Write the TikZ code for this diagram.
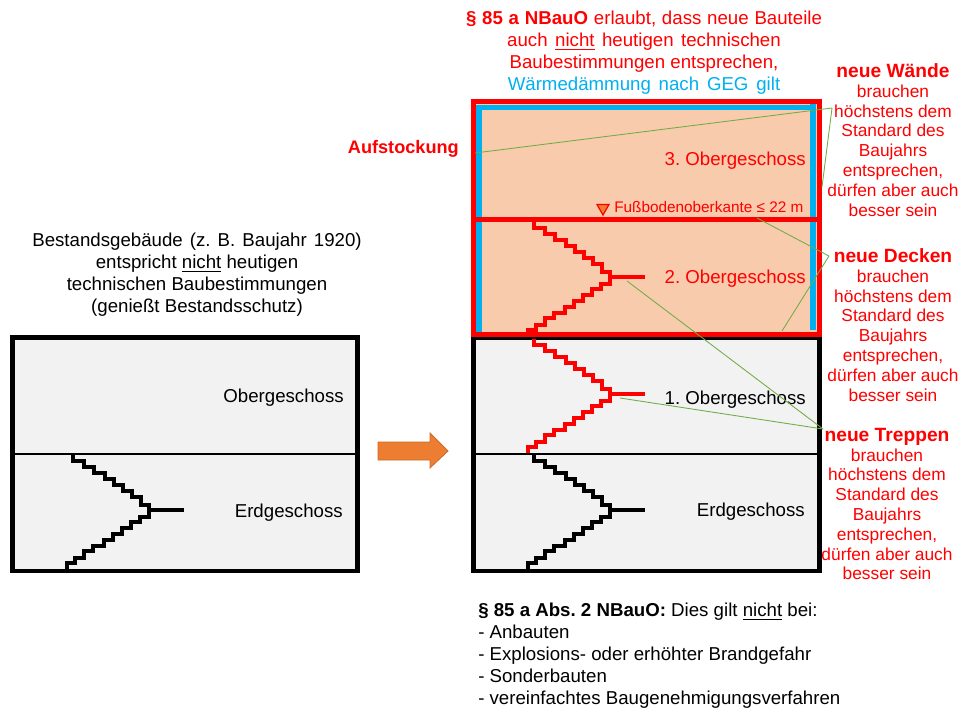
\documentclass[tikz,border=0pt]{standalone}
\usepackage{fontspec}
\setmainfont{Liberation Sans}
\frenchspacing
\definecolor{rot}{HTML}{FF0000}
\definecolor{blau}{HTML}{00B0F0}
\definecolor{gruen}{HTML}{70AD47}
\definecolor{orange}{HTML}{ED7D31}
\definecolor{grau}{HTML}{F2F2F2}
\definecolor{lachs}{HTML}{F8CBAD}
\tikzset{
  geschoss/.style={anchor=east, inner sep=0pt, font=\fontsize{14}{16}\selectfont},
  rottext/.style={text=rot, align=center, inner sep=0pt, font=\fontsize{13}{14.85}\selectfont},
  zettel/.style={align=center, inner sep=0pt, font=\fontsize{14}{16.5}\selectfont},
  liste/.style={align=left, anchor=north west, inner sep=0pt, font=\fontsize{14}{16.5}\selectfont},
  hinweis/.style={gruen, line width=0.65pt}
}
\begin{document}
\begin{tikzpicture}[x=0.75pt, y=-0.75pt]

    \useasboundingbox (0, 0) rectangle (960, 707);

    % Treppe: Versatz x, Versatz y, Farbe, Linienbreite
    \newcommand{\treppe}[4]{
        \draw[#3, line width=#4, miter limit=2] (534+#1, 455+#2) -- ++(0, 6) -- ++(11, 0) -- ++(0, 6) -- ++(10, 0)
            -- ++(0, 6) -- ++(11, 0) -- ++(0, 6) -- ++(9, 0) -- ++(0, 6) -- ++(9, 0)
            -- ++(0, 6) -- ++(9, 0) -- ++(0, 6) -- ++(9, 0) -- ++(0, 8) -- ++(8, 0) -- ++(0, 12)
            -- ++(-9, 0) -- ++(0, 5) -- ++(-9, 0) -- ++(0, 6) -- ++(-9, 0) -- ++(0, 6)
            -- ++(-9, 0) -- ++(0, 6) -- ++(-9, 0) -- ++(0, 6) -- ++(-11, 0) -- ++(0, 5)
            -- ++(-9, 0) -- ++(0, 7) -- ++(-9, 0) -- ++(0, 5) -- ++(-8, 0) -- ++(0, 6);
        \draw[#3, line width=#4] (611+#1, 510+#2) -- (645+#1, 510+#2);
    }

    % -- Bestand links --
    \draw[line width=3.5pt, fill=grau] (12.5, 337.5) rectangle (357.5, 571);
    \draw[line width=1.8pt] (14, 454) -- (356, 454);
    \treppe{-461}{0}{black}{2.8pt}
    \node[geschoss] (og) at (344, 397.5) {Obergeschoss};
    \node[geschoss] (eg) at (343, 513) {Erdgeschoss};

    \node[zettel] (bestand) at (197, 275) {{\spaceskip=0.38em Bestandsgebäude (z. B. Baujahr 1920)}\\
        entspricht \underline{nicht} heutigen\\
        technischen Baubestimmungen\\
        (genießt Bestandsschutz)};

    % Pfeil
    \draw[orange!85!black, line width=0.6pt, fill=orange] (378, 442) -- (430, 442) -- (430, 433) -- (448, 451)
        -- (430, 468) -- (430, 460) -- (378, 460) -- cycle;

    % -- Bestand rechts --
    \draw[line width=3.5pt, fill=grau] (473.5, 337.5) rectangle (819.5, 571);
    \draw[line width=1.8pt] (475, 454) -- (818, 454);
    \treppe{0}{0}{black}{2.8pt}
    \treppe{0}{-116}{rot}{3.5pt}
    \node[geschoss] (eins) at (806, 400) {1. Obergeschoss};
    \node[geschoss] (egneu) at (805, 512) {Erdgeschoss};

    % -- Aufstockung --
    \draw[rot, line width=3.75pt, fill=lachs] (473.5, 101.5) rectangle (819.5, 334.5);
    \treppe{0}{-233}{rot}{3.5pt}
    \draw[blau, line width=3.9pt] (479, 332) -- (479, 107.5) -- (814, 107.5);
    \draw[blau, line width=3.9pt] (813, 104) -- (813, 330);
    \draw[rot, line width=3.75pt] (476, 219) -- (817, 219);
    \node[geschoss, text=rot] (drei) at (806, 161) {3. Obergeschoss};
    \node[geschoss, text=rot] (zwei) at (806, 279) {2. Obergeschoss};

    \draw[rot, line width=0.9pt, fill=orange] (597, 204.5) -- (609, 204.5) -- (603, 215) -- cycle;
    \node[rot, anchor=west, inner sep=0pt, font=\fontsize{11.5}{13}\selectfont] (oberkante) at (614, 207) {Fußbodenoberkante ≤ 22 m};

    \node[anchor=east, inner sep=0pt, text=rot, font=\bfseries\fontsize{13.6}{16}\selectfont] (aufstockung) at (459, 149) {Aufstockung};

    % -- Kopftext und Liste --
    \node[zettel] (kopf) at (644, 53) {{\spaceskip=0.31em\color{rot}\textbf{§ 85 a NBauO} erlaubt, dass neue Bauteile}\\
        {\spaceskip=0.4em\color{rot}auch \underline{nicht} heutigen technischen}\\
        {\color{rot}Baubestimmungen entsprechen,}\\
        {\spaceskip=0.42em\color{blau}Wärmedämmung nach GEG gilt}};

    \node[liste] (ausnahmen) at (478, 603) {\textbf{§ 85 a Abs. 2 NBauO:} Dies gilt \underline{nicht} bei:\\
        - Anbauten\\
        - Explosions- oder erhöhter Brandgefahr\\
        - Sonderbauten\\
        - vereinfachtes Baugenehmigungsverfahren};

    % -- Erlaeuterungen rechts --
    \node[rottext] (waende) at (893, 140) {\textbf{\fontsize{14.4}{14.85}\selectfont neue Wände}\\ brauchen\\ höchstens dem\\ Standard des\\ Baujahrs\\ entsprechen,\\ dürfen aber auch\\ besser sein};
    \node[rottext] (decken) at (893, 325) {\textbf{\fontsize{14.4}{14.85}\selectfont neue Decken}\\ brauchen\\ höchstens dem\\ Standard des\\ Baujahrs\\ entsprechen,\\ dürfen aber auch\\ besser sein};
    \node[rottext] (treppen) at (887, 504) {\textbf{\fontsize{14.4}{14.85}\selectfont neue Treppen}\\ brauchen\\ höchstens dem\\ Standard des\\ Baujahrs\\ entsprechen,\\ dürfen aber auch\\ besser sein};

    % Hinweislinien
    \coordinate (wandlinks) at (475, 153);
    \coordinate (wandrechts) at (822, 187);
    \coordinate (wandoben) at (832, 108);
    \coordinate (deckeoben) at (757, 218);
    \coordinate (deckeunten) at (782, 331);
    \coordinate (deckelinks) at (829, 256);
    \coordinate (treppezwei) at (627, 281);
    \coordinate (treppeeins) at (620, 398);
    \coordinate (treppespitze) at (823, 429);

    \draw[hinweis] (wandoben) -- (wandlinks);
    \draw[hinweis] (wandoben) -- (wandrechts);
    \draw[hinweis] (deckelinks) -- (deckeoben);
    \draw[hinweis] (deckelinks) -- (deckeunten);
    \draw[hinweis] (treppespitze) -- (treppezwei);
    \draw[hinweis] (treppespitze) -- (treppeeins);
\end{tikzpicture}
\end{document}
